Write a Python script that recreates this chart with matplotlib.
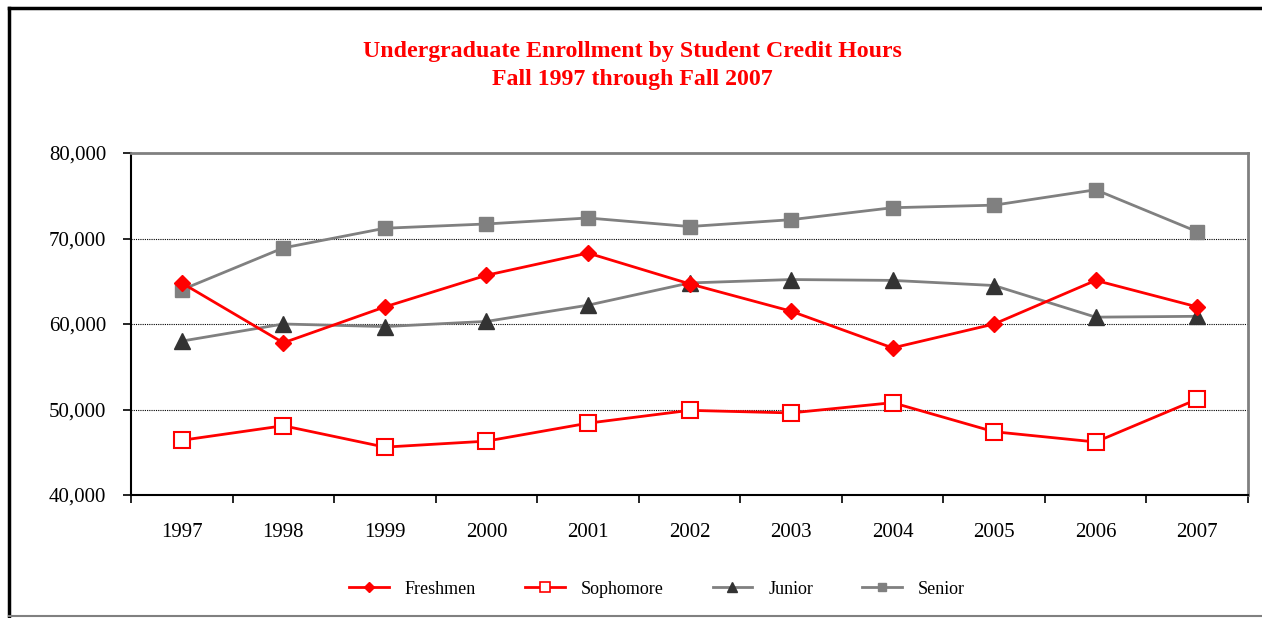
import matplotlib
matplotlib.use('Agg')
import matplotlib.pyplot as plt
from matplotlib.lines import Line2D
from matplotlib.ticker import FuncFormatter

plt.rcParams['font.family'] = ['Liberation Serif', 'DejaVu Serif']

# data
years = ['1997', '1998', '1999', '2000', '2001', '2002', '2003', '2004', '2005', '2006', '2007']
freshmen = [64800, 57800, 62000, 65700, 68300, 64700, 61500, 57200, 60000, 65100, 62000]
sophomore = [46400, 48100, 45600, 46300, 48400, 49900, 49600, 50800, 47400, 46200, 51200]
junior = [58000, 60000, 59700, 60300, 62200, 64800, 65200, 65100, 64500, 60800, 60900]
senior = [64000, 68900, 71200, 71700, 72400, 71400, 72200, 73600, 73900, 75700, 70800]

fig = plt.figure(figsize=(12.62, 6.18), dpi=100, facecolor='white')
ax = fig.add_axes([131/1262, 1 - 495/618, (1248 - 131)/1262, (495 - 153)/618])

x = range(len(years))
ax.plot(x, freshmen, color='#FF0000', lw=2, marker='D', ms=8,
        mfc='#FF0000', mec='#FF0000', label='Freshmen', zorder=4)
ax.plot(x, sophomore, color='#FF0000', lw=2, marker='s', ms=11,
        mfc='white', mec='#FF0000', mew=1.5, label='Sophomore', zorder=4)
ax.plot(x, junior, color='#808080', lw=2, marker='^', ms=11,
        mfc='#333333', mec='#333333', label='Junior', zorder=3)
ax.plot(x, senior, color='#808080', lw=2, marker='s', ms=10,
        mfc='#808080', mec='#808080', label='Senior', zorder=3)

ax.set_ylim(40000, 80000)
ax.set_xlim(-0.5, len(years) - 0.5)
ax.set_yticks([40000, 50000, 60000, 70000, 80000])
ax.yaxis.set_major_formatter(FuncFormatter(lambda v, p: f'{int(v):,}'))
for v in [50000, 60000, 70000]:
    ax.axhline(v, color='black', lw=0.8, ls=(0, (1, 1)), zorder=1)

# category boundaries as major ticks, year labels on minor ticks
ax.set_xticks([i - 0.5 for i in range(len(years) + 1)])
ax.set_xticklabels([])
ax.set_xticks(list(x), minor=True)
ax.set_xticklabels(years, minor=True)
ax.tick_params(axis='x', which='major', direction='out', length=6, width=1.2, color='black')
ax.tick_params(axis='x', which='minor', length=0, pad=20, labelsize=15)
ax.tick_params(axis='y', direction='out', length=6, width=1.2, pad=12, labelsize=15)

for s in ['left', 'bottom']:
    ax.spines[s].set_color('black')
    ax.spines[s].set_linewidth(1.5)
for s in ['top', 'right']:
    ax.spines[s].set_color('#808080')
    ax.spines[s].set_linewidth(2)

fig.text(632/1262, 1 - 51/618, 'Undergraduate Enrollment by Student Credit Hours',
         ha='center', va='center', color='#FF0000', fontsize=17.2, fontweight='bold')
fig.text(632/1262, 1 - 79/618, 'Fall 1997 through Fall 2007',
         ha='center', va='center', color='#FF0000', fontsize=17.2, fontweight='bold')

handles = [
    Line2D([], [], color='#FF0000', lw=2, marker='D', ms=5, mfc='#FF0000', mec='#FF0000'),
    Line2D([], [], color='#FF0000', lw=2, marker='s', ms=7, mfc='white', mec='#FF0000', mew=1.2),
    Line2D([], [], color='#808080', lw=2, marker='^', ms=7, mfc='#333333', mec='#333333'),
    Line2D([], [], color='#808080', lw=2, marker='s', ms=6, mfc='#808080', mec='#808080'),
]
fig.legend(handles, ['Freshmen', 'Sophomore', 'Junior', 'Senior'],
           loc='center', bbox_to_anchor=(657/1262, 1 - 589/618), ncol=4,
           frameon=False, fontsize=13, handlelength=2.2, columnspacing=2.7, handletextpad=0.9)

# outer frame (top/left black, bottom grey)
fig.add_artist(Line2D([9/1262, 1], [1 - 8/618, 1 - 8/618], color='black', lw=2.5, transform=fig.transFigure))
fig.add_artist(Line2D([9/1262, 9/1262], [1 - 8/618, 0], color='black', lw=2.5, transform=fig.transFigure))
fig.add_artist(Line2D([9/1262, 1], [1 - 616/618, 1 - 616/618], color='#808080', lw=1.5, transform=fig.transFigure))

fig.savefig('out.png', dpi=100, facecolor='white')
